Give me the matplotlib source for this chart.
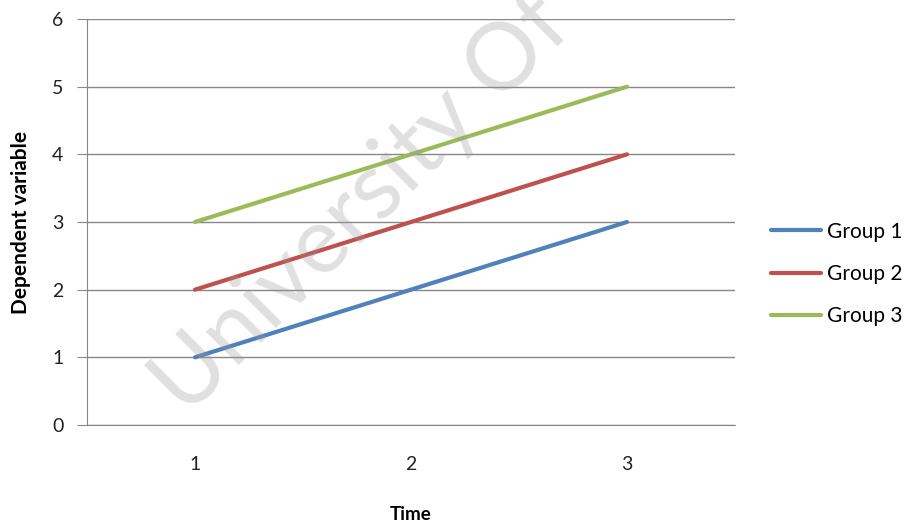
import matplotlib
matplotlib.use("Agg")
import matplotlib.pyplot as plt

plt.rcParams['font.family'] = ['Lato', 'DejaVu Sans']

time = [1, 2, 3]
group1 = [1, 2, 3]
group2 = [2, 3, 4]
group3 = [3, 4, 5]
labels = ["Group 1", "Group 2", "Group 3"]
colors = ["#4F81BD", "#C0504D", "#9BBB59"]

fig = plt.figure(figsize=(9.09, 5.23), dpi=100)
ax = fig.add_axes([87/909, 1 - 425/523, (735-87)/909, (425-19)/523])

for ys, lab, c in zip([group1, group2, group3], labels, colors):
    ax.plot(time, ys, color=c, lw=3, label=lab, solid_capstyle='round')

ax.set_xlim(0.5, 3.5)
ax.set_ylim(0, 6)
ax.set_xticks(time)
ax.set_yticks(range(0, 7))
ax.grid(axis='y', color='#878787', lw=1)
ax.set_axisbelow(True)
for s in ['top', 'right']:
    ax.spines[s].set_visible(False)
ax.spines['left'].set_color('#878787')
ax.spines['bottom'].set_color('#878787')
ax.tick_params(axis='y', length=7, color='#878787', labelsize=14, pad=10, labelcolor='#222222')
ax.tick_params(axis='x', length=0, labelsize=14, pad=22, labelcolor='#222222')

ax.set_xlabel("Time", fontsize=13.5, fontweight='bold', labelpad=24)
ax.set_ylabel("Dependent variable", fontsize=15, fontweight='bold', labelpad=15)

fig.legend(loc='center left', bbox_to_anchor=(0.828, 0.476), frameon=False,
           fontsize=15, handlelength=2.4, handletextpad=0.25, labelspacing=1.07)

# watermark, cut off at the top like the original
wm = fig.text(0.152, 0.18, "University Of C", fontsize=67, color='#999999', alpha=0.3,
              rotation=45, ha='left', va='bottom', zorder=10)
wm.set_clip_on(True)

fig.savefig("out.png", dpi=100)
